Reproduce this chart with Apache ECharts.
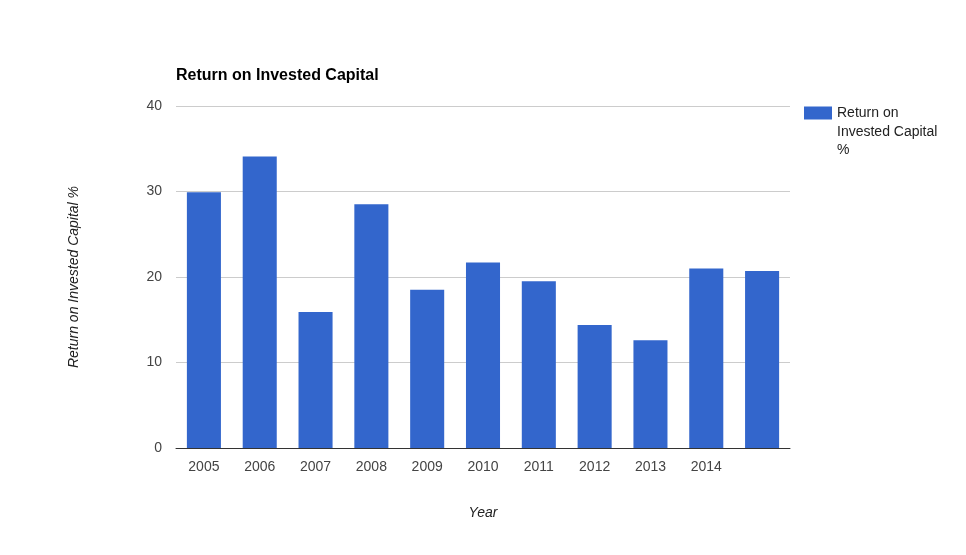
<!DOCTYPE html>
<html>
<head>
<meta charset="utf-8">
<script src="https://cdn.jsdelivr.net/npm/echarts@6/dist/echarts.min.js"></script>
<style>html,body{margin:0;padding:0;background:#fff;}#c{width:966px;height:555px;}</style>
</head>
<body>
<div id="c"></div>
<script>
var categories = ['2005','2006','2007','2008','2009','2010','2011','2012','2013','2014',''];
var roicValues = [29.9, 34.1, 15.9, 28.5, 18.5, 21.7, 19.5, 14.4, 12.6, 21.0, 20.7];
var yTicks = [0, 10, 20, 30, 40];
var seriesName = 'Return on Invested Capital %';

var FONT = 'Liberation Sans, Arial, sans-serif';
var chart = echarts.init(document.getElementById('c'), null, {renderer: 'canvas'});
chart.setOption({
  animation: false,
  backgroundColor: '#ffffff',
  textStyle: {fontFamily: FONT},
  title: {
    text: 'Return on Invested Capital',
    left: 176, top: 68, padding: 0,
    textStyle: {fontSize: 16, fontWeight: 'bold', color: '#000', fontFamily: FONT}
  },
  legend: {
    orient: 'vertical',
    left: 804, top: 106, padding: 0,
    itemWidth: 28, itemHeight: 13,
    icon: 'rect',
    data: [{name: seriesName}],
    formatter: function () { return 'Return on'; },
    textStyle: {fontSize: 14, color: '#222', fontFamily: FONT, padding: [1, 0, 0, 0]}
  },
  graphic: [{
    type: 'text',
    left: 837, top: 123,
    silent: true,
    style: {text: 'Invested Capital\n%', fontSize: 14, lineHeight: 18, fill: '#222', fontFamily: FONT}
  }],
  grid: {left: 176, right: 176, top: 106, bottom: 107, containLabel: false},
  xAxis: {
    type: 'category',
    data: categories,
    name: 'Year',
    nameLocation: 'middle',
    nameGap: 58,
    nameTextStyle: {fontSize: 14, fontStyle: 'italic', color: '#222', fontFamily: FONT},
    axisLine: {lineStyle: {color: '#333', width: 1}},
    axisTick: {show: false},
    axisLabel: {interval: 0, fontSize: 14, color: '#444', margin: 12, fontFamily: FONT}
  },
  yAxis: {
    type: 'value',
    min: yTicks[0], max: yTicks[yTicks.length - 1], interval: 10,
    name: seriesName,
    nameLocation: 'middle',
    nameGap: 95,
    nameTextStyle: {fontSize: 14, fontStyle: 'italic', color: '#222', fontFamily: FONT},
    axisLine: {show: false},
    axisTick: {show: false},
    axisLabel: {fontSize: 14, color: '#444', margin: 14, fontFamily: FONT},
    splitLine: {lineStyle: {color: '#cccccc', width: 1}}
  },
  series: [{
    name: seriesName,
    type: 'bar',
    data: roicValues,
    barWidth: '61%',
    itemStyle: {color: '#3366cc'}
  }]
});
</script>
</body>
</html>
